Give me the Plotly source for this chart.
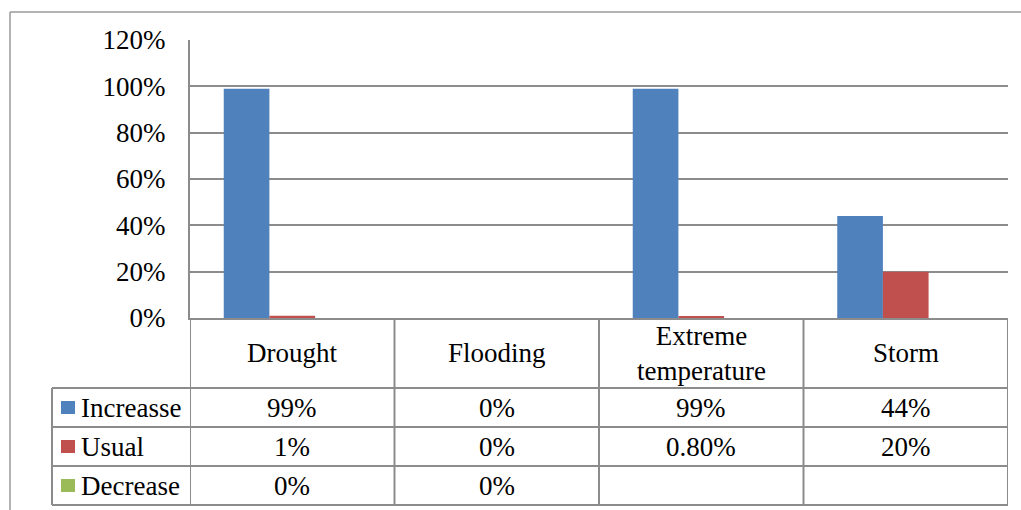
import plotly.graph_objects as go

# Survey results: perceived change in frequency of climate hazards
categories = ["Drought", "Flooding", "Extreme temperature", "Storm"]
category_labels = ["Drought", "Flooding", "Extreme<br>temperature", "Storm"]
series_names = ["Increasse", "Usual", "Decrease"]
increase = [0.99, 0.0, 0.99, 0.44]
usual = [0.01, 0.0, 0.008, 0.20]
decrease = [0.0, 0.0, None, None]
y_ticks = [0, 0.2, 0.4, 0.6, 0.8, 1.0, 1.2]

colors = ["#4F81BD", "#C0504D", "#9BBB59"]
series_values = [increase, usual, decrease]

W, H = 1021, 510
PL, PR, PT, PB = 190, 1008, 40, 318  # plot area in pixels
FONT = "Liberation Serif"
FS = 27
GRID = "#8C8C8C"
TXT = dict(family=FONT, size=FS, color="black")


def py(pix):
    """Pixel row -> paper y."""
    return (PB - pix) / (PB - PT)


def px(pix):
    """Pixel column -> paper x."""
    return (pix - PL) / (PR - PL)


def fmt(v):
    if v is None:
        return ""
    pct = v * 100
    if abs(pct - round(pct)) < 1e-9:
        return f"{v:.0%}"
    return f"{v:.2%}"


fig = go.Figure()
for name, vals, col in zip(series_names, series_values, colors):
    fig.add_trace(go.Bar(
        x=categories, y=vals, name=name,
        marker=dict(color=col, line=dict(width=0)),
        showlegend=False,
    ))

shapes = []

# outer chart frame (top and left edges)
shapes.append(dict(type="line", xref="paper", yref="paper",
                   x0=px(10), x1=px(W + 5), y0=py(12), y1=py(12),
                   line=dict(color="#9A9A9A", width=1.5)))
shapes.append(dict(type="line", xref="paper", yref="paper",
                   x0=px(10), x1=px(10), y0=py(12), y1=py(H + 5),
                   line=dict(color="#9A9A9A", width=1.5)))

# data table grid
row_lines = [388, 427, 466, 505]
table_left = 52
for yl in row_lines:
    shapes.append(dict(type="line", xref="paper", yref="paper",
                       x0=px(table_left), x1=1, y0=py(yl), y1=py(yl),
                       line=dict(color=GRID, width=2)))
for k in range(len(categories) + 1):
    shapes.append(dict(type="line", xref="x", yref="paper",
                       x0=k - 0.5, x1=k - 0.5, y0=py(PB), y1=py(505),
                       line=dict(color=GRID, width=2)))
shapes.append(dict(type="line", xref="paper", yref="paper",
                   x0=px(table_left), x1=px(table_left), y0=py(388), y1=py(505),
                   line=dict(color=GRID, width=2)))

fig.update_layout(
    width=W, height=H,
    margin=dict(l=PL, r=W - PR, t=PT, b=H - PB, pad=0),
    paper_bgcolor="white", plot_bgcolor="white",
    barmode="group", bargap=0.33, bargroupgap=0,
    shapes=shapes,
)

# category header row
for i, lab in enumerate(category_labels):
    fig.add_annotation(x=i, xref="x", y=py(353), yref="paper",
                       text=lab, showarrow=False, xanchor="center",
                       yanchor="middle", font=TXT)

# series rows: legend key, name and values
for r, (name, vals, col) in enumerate(zip(series_names, series_values, colors)):
    top, bot = row_lines[r], row_lines[r + 1]
    mid = (top + bot) / 2
    fig.add_shape(type="rect", xref="paper", yref="paper",
                  x0=px(61), x1=px(75), y0=py(mid - 6.5), y1=py(mid + 6.5),
                  fillcolor=col, line=dict(width=0))
    fig.add_annotation(x=px(79), xref="paper", y=py(mid), yref="paper",
                       text=name, showarrow=False, xanchor="left",
                       yanchor="middle", font=TXT)
    for i, v in enumerate(vals):
        if v is None:
            continue
        fig.add_annotation(x=i, xref="x", y=py(mid), yref="paper",
                           text=fmt(v), showarrow=False, xanchor="center",
                           yanchor="middle", font=TXT)

fig.update_xaxes(type="category", range=[-0.5, 3.5], showticklabels=False,
                 showgrid=False, showline=True, linecolor=GRID, linewidth=2,
                 ticks="", zeroline=False, fixedrange=True)
fig.update_yaxes(range=[0, 1.2], tickvals=y_ticks, tickformat=".0%",
                 showgrid=True, gridcolor=GRID, gridwidth=2,
                 showline=True, linecolor=GRID, linewidth=2,
                 ticks="", ticklabelstandoff=17, zeroline=False,
                 tickfont=TXT, fixedrange=True)

fig.write_html("out.html")
